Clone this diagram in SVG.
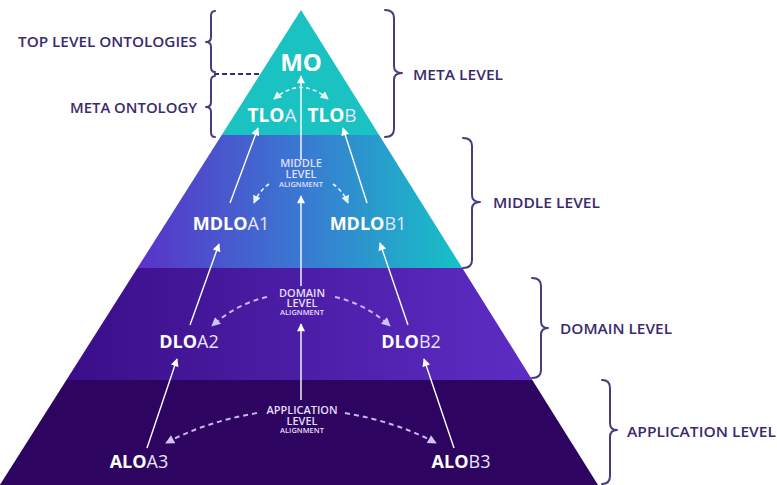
<svg xmlns="http://www.w3.org/2000/svg" width="777" height="485" viewBox="0 0 777 485">
<style>
.lbl{font-family:"Open Sans","Liberation Sans",sans-serif;font-weight:600;font-size:14.5px;fill:#3b2a6e}
.brace{fill:none;stroke:#4a3a7e;stroke-width:2;stroke-linecap:round;stroke-linejoin:round}
.node{font-family:"Open Sans","Liberation Sans",sans-serif;fill:#ffffff;font-size:18px;text-anchor:middle}
.node .b{font-weight:700}
.node .r{font-weight:400;fill:#e8e4f8}
.al{font-family:"Open Sans","Liberation Sans",sans-serif;fill:#e4def8;text-anchor:middle;font-weight:600}
.al .big{font-size:11px}
.al .sm{font-size:7.5px}
.solid{fill:none;stroke:#ffffff;stroke-width:1.4;marker-end:url(#ah)}
.dash{fill:none;stroke:#c9b6f3;stroke-width:2;stroke-dasharray:5 4;marker-end:url(#dh)}
.dashT{fill:none;stroke:#e3f6f6;stroke-width:1.6;stroke-dasharray:4 3}
</style>
<defs>
<linearGradient id="gMid" gradientUnits="userSpaceOnUse" x1="137" y1="0" x2="462" y2="0">
<stop offset="0" stop-color="#5a32c8"/>
<stop offset="0.5" stop-color="#3a78d2"/>
<stop offset="1" stop-color="#16c2c6"/>
</linearGradient>
<linearGradient id="gDom" gradientUnits="userSpaceOnUse" x1="66" y1="0" x2="532" y2="0">
<stop offset="0" stop-color="#3a0e88"/>
<stop offset="1" stop-color="#5d2dc4"/>
</linearGradient>
<marker id="ah" viewBox="0 0 10 10" refX="9" refY="5" markerWidth="9" markerHeight="8" markerUnits="userSpaceOnUse" orient="auto">
<path d="M0,0 L10,5 L0,10 z" fill="#ffffff"/>
</marker>
<marker id="dh" viewBox="0 0 10 10" refX="9" refY="5" markerWidth="10" markerHeight="9" markerUnits="userSpaceOnUse" orient="auto">
<path d="M0,0 L10,5 L0,10 z" fill="#d2c2f6"/>
</marker>
<marker id="th" viewBox="0 0 10 10" refX="9" refY="5" markerWidth="9" markerHeight="8" markerUnits="userSpaceOnUse" orient="auto-start-reverse">
<path d="M0,0 L10,5 L0,10 z" fill="#e3f6f6"/>
</marker>
</defs>

<g id="pyramid">
<polygon points="301,10 379.1,135 221.7,135" fill="#1bc2c2"/>
<polygon points="221.7,135 379.1,135 462.3,268 137.4,268" fill="url(#gMid)"/>
<polygon points="137.4,268 462.3,268 532.3,380 66.4,380" fill="url(#gDom)"/>
<polygon points="66.4,380 532.3,380 598,485 -0.2,485" fill="#2d0561"/>
</g>

<g id="left-labels">
<g id="label-top-level-ontologies">
<text class="lbl" x="197" y="47" text-anchor="end" textLength="179" lengthAdjust="spacingAndGlyphs">TOP LEVEL ONTOLOGIES</text>
<path class="brace" d="M215 11 Q211 11 211 16 L211 37 Q211 42 206 42 Q211 42 211 47 L211 67 Q211 72 215 72"/>
</g>
<g id="label-meta-ontology">
<text class="lbl" x="197" y="113" text-anchor="end" textLength="127" lengthAdjust="spacingAndGlyphs">META ONTOLOGY</text>
<path class="brace" d="M215 76 Q211 76 211 81 L211 102 Q211 107 206 107 Q211 107 211 112 L211 132 Q211 137 215 137"/>
</g>
<line x1="214" y1="74" x2="262" y2="74" stroke="#3b2a6e" stroke-width="2" stroke-dasharray="5 3"/>
</g>

<g id="right-labels">
<g id="label-meta-level">
<path class="brace" d="M385 10 Q394 10 394 18 L394 66 Q394 73 402 73 Q394 73 394 80 L394 129 Q394 137 385 137"/>
<text class="lbl" x="413" y="80" textLength="90" lengthAdjust="spacingAndGlyphs">META LEVEL</text>
</g>
<g id="label-middle-level">
<path class="brace" d="M463 138 Q472 138 472 146 L472 195 Q472 202 480 202 Q472 202 472 209 L472 260 Q472 268 463 268"/>
<text class="lbl" x="493" y="208" textLength="107" lengthAdjust="spacingAndGlyphs">MIDDLE LEVEL</text>
</g>
<g id="label-domain-level">
<path class="brace" d="M532 278 Q541 278 541 286 L541 321 Q541 328 548 328 Q541 328 541 335 L541 370 Q541 378 532 378"/>
<text class="lbl" x="560" y="334" textLength="112" lengthAdjust="spacingAndGlyphs">DOMAIN LEVEL</text>
</g>
<g id="label-application-level">
<path class="brace" d="M602 380 Q610 380 610 388 L610 423 Q610 430 617 430 Q610 430 610 437 L610 476 Q610 484 602 484"/>
<text class="lbl" x="627" y="437" textLength="149" lengthAdjust="spacingAndGlyphs">APPLICATION LEVEL</text>
</g>
</g>

<g id="connectors">
<line class="solid" x1="301" y1="400" x2="301" y2="324"/>
<line class="solid" x1="301" y1="286" x2="301" y2="196"/>
<line class="solid" x1="301" y1="160" x2="301" y2="76"/>
<line class="solid" x1="147" y1="448" x2="177" y2="359"/>
<line class="solid" x1="454" y1="448" x2="424" y2="359"/>
<line class="solid" x1="190" y1="325" x2="219" y2="244"/>
<line class="solid" x1="408" y1="325" x2="380" y2="243"/>
<line class="solid" x1="230" y1="203" x2="258" y2="128"/>
<line class="solid" x1="367" y1="203" x2="343" y2="128"/>
<path class="dashT" d="M274 99 Q301 76 328 99" marker-start="url(#th)" marker-end="url(#th)"/>
<path class="dashT" d="M269 184 Q259 191 254 203" marker-end="url(#th)"/>
<path class="dashT" d="M333 184 Q343 191 348 203" marker-end="url(#th)"/>
<path class="dash" d="M267 297 Q236 304 212 326"/>
<path class="dash" d="M335 297 Q366 304 390 326"/>
<path class="dash" d="M257 413 Q205 422 166 443"/>
<path class="dash" d="M345 413 Q397 422 436 443"/>
</g>

<g id="node-MO"><text class="node" x="301" y="71" style="font-size:24px"><tspan class="b">MO</tspan></text></g>
<g id="node-TLOA"><text class="node" x="272" y="122" style="font-size:19px"><tspan class="b">TLO</tspan><tspan class="r">A</tspan></text></g>
<g id="node-TLOB"><text class="node" x="332" y="122" style="font-size:19px"><tspan class="b">TLO</tspan><tspan class="r">B</tspan></text></g>
<g id="node-MDLOA1"><text class="node" x="231" y="230"><tspan class="b">MDLO</tspan><tspan class="r">A1</tspan></text></g>
<g id="node-MDLOB1"><text class="node" x="368" y="230"><tspan class="b">MDLO</tspan><tspan class="r">B1</tspan></text></g>
<g id="node-DLOA2"><text class="node" x="189" y="348"><tspan class="b">DLO</tspan><tspan class="r">A2</tspan></text></g>
<g id="node-DLOB2"><text class="node" x="411" y="348"><tspan class="b">DLO</tspan><tspan class="r">B2</tspan></text></g>
<g id="node-ALOA3"><text class="node" x="139" y="468"><tspan class="b">ALO</tspan><tspan class="r">A3</tspan></text></g>
<g id="node-ALOB3"><text class="node" x="461" y="468"><tspan class="b">ALO</tspan><tspan class="r">B3</tspan></text></g>

<g id="middle-alignment">
<text class="al" x="301" y="167"><tspan class="big">MIDDLE</tspan><tspan class="big" x="301" dy="11">LEVEL</tspan><tspan class="sm" x="301" dy="9">ALIGNMENT</tspan></text>
</g>
<g id="domain-alignment">
<text class="al" x="302" y="297"><tspan class="big">DOMAIN</tspan><tspan class="big" x="302" dy="10">LEVEL</tspan><tspan class="sm" x="302" dy="8">ALIGNMENT</tspan></text>
</g>
<g id="application-alignment">
<text class="al" x="302" y="414"><tspan class="big">APPLICATION</tspan><tspan class="big" x="302" dy="11">LEVEL</tspan><tspan class="sm" x="302" dy="8">ALIGNMENT</tspan></text>
</g>
</svg>
